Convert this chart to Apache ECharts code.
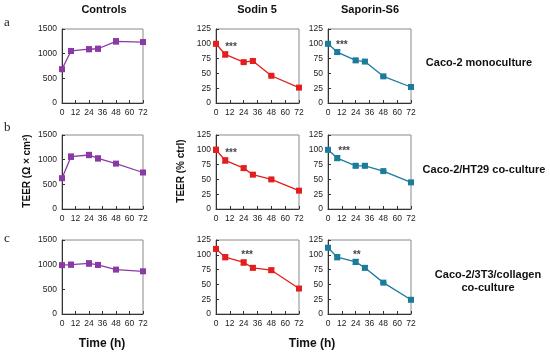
<!DOCTYPE html>
<html><head><meta charset="utf-8">
<script src="https://cdn.jsdelivr.net/npm/echarts@6/dist/echarts.min.js"></script>
<style>html,body{margin:0;padding:0;background:#fff}#c{width:550px;height:356px}</style>
</head><body><div id="c"></div>
<script>
const times = [0, 8, 24, 32, 48, 72];
const xTicks = [0, 12, 24, 36, 48, 60, 72];
const colTitles = ['Controls', 'Sodin 5', 'Saporin-S6'];
const rowLetters = ['a', 'b', 'c'];
const rowLabels = [['Caco-2 monoculture'], ['Caco-2/HT29 co-culture'], ['Caco-2/3T3/collagen', 'co-culture']];

// Controls (TEER, Ω × cm²)
const ctrlA = [685, 1055, 1090, 1100, 1250, 1235];
const ctrlAErr = [30, 45, 45, 45, 50, 40];
const ctrlB = [625, 1060, 1095, 1025, 920, 740];
const ctrlBErr = [30, 50, 50, 45, 35, 25];
const ctrlC = [990, 1000, 1025, 995, 900, 865];
const ctrlCErr = [35, 45, 50, 45, 35, 35];
// Sodin 5 (TEER, % ctrl)
const sodA = [100, 82, 69, 71, 46, 26];
const sodAErr = [3, 4, 2, 3, 1, 1];
const sodB = [100, 82, 69, 58, 50, 31];
const sodBErr = [4, 4, 3, 2, 1, 1];
const sodC = [110, 96, 87, 78, 74, 43];
const sodCErr = [3, 4, 4, 3, 3, 1];
// Saporin-S6 (TEER, % ctrl)
const sapA = [100, 86, 72, 70, 45, 27];
const sapAErr = [3, 3, 3, 2, 1, 1];
const sapB = [100, 86, 73, 73, 64, 45];
const sapBErr = [3, 4, 3, 3, 1, 1];
const sapC = [112, 96, 88, 78, 53, 24];
const sapCErr = [3, 4, 4, 3, 1, 1];

// significance marks [x, y, text] per panel
const sigSodA = [13, 94, '***'];
const sigSapA = [12, 97, '***'];
const sigSodB = [13, 95, '***'];
const sigSapB = [14, 98, '***'];
const sigSodC = [27, 100, '***'];
const sigSapC = [25, 100, '**'];

const panels = [
  [[ctrlA, ctrlAErr, null], [sodA, sodAErr, sigSodA], [sapA, sapAErr, sigSapA]],
  [[ctrlB, ctrlBErr, null], [sodB, sodBErr, sigSodB], [sapB, sapBErr, sigSapB]],
  [[ctrlC, ctrlCErr, null], [sodC, sodCErr, sigSodC], [sapC, sapCErr, sigSapC]]
];
const colors = ['#8b3aa5', '#e41e1e', '#1b7c9c'];
const gridLeft = [62, 216, 328];
const gridW = [81, 83, 83];
const gridTop = [29, 135, 240];
const gridH = 74;

const grids = [], xAxes = [], yAxes = [], series = [];
const FONT = '"Liberation Sans", Arial, sans-serif';
for (let r = 0; r < 3; r++) {
  for (let c = 0; c < 3; c++) {
    const gi = r * 3 + c;
    grids.push({left: gridLeft[c], top: gridTop[r], width: gridW[c], height: gridH,
      show: true, borderColor: '#8a8a8a', borderWidth: 1, backgroundColor: 'transparent'});
    xAxes.push({type: 'value', gridIndex: gi, min: 0, max: 72, interval: 12,
      axisLine: {lineStyle: {color: '#333', width: 1}},
      axisTick: {inside: true, length: 3, lineStyle: {color: '#333'}},
      axisLabel: {fontSize: 8.5, color: '#222', margin: 5, fontFamily: FONT, formatter: v => String(v)},
      splitLine: {show: false}});
    const isCtrl = c === 0;
    yAxes.push({type: 'value', gridIndex: gi, min: 0, max: isCtrl ? 1500 : 125, interval: isCtrl ? 500 : 25,
      axisLine: {show: true, lineStyle: {color: '#333', width: 1}},
      axisTick: {show: true, inside: true, length: 3, lineStyle: {color: '#333'}},
      axisLabel: {fontSize: 8.5, color: '#222', margin: 5, fontFamily: FONT, formatter: v => String(v)},
      splitLine: {show: false}});
    const [vals, errs, sig] = panels[r][c];
    const col = colors[c];
    series.push({type: 'line', xAxisIndex: gi, yAxisIndex: gi,
      data: times.map((t, k) => [t, vals[k]]),
      symbol: 'rect', symbolSize: 6, showSymbol: true,
      lineStyle: {color: col, width: 1.3}, itemStyle: {color: col},
      animation: false, z: 3});
    series.push({type: 'custom', xAxisIndex: gi, yAxisIndex: gi,
      data: times.map((t, k) => [t, vals[k] - errs[k], vals[k] + errs[k]]),
      renderItem: function (params, api) {
        const lo = api.coord([api.value(0), api.value(1)]);
        const hi = api.coord([api.value(0), api.value(2)]);
        const w = 3;
        const st = {stroke: col, lineWidth: 1.4};
        return {type: 'group', children: [
          {type: 'line', shape: {x1: lo[0], y1: lo[1], x2: hi[0], y2: hi[1]}, style: st},
          {type: 'line', shape: {x1: lo[0] - w, y1: lo[1], x2: lo[0] + w, y2: lo[1]}, style: st},
          {type: 'line', shape: {x1: hi[0] - w, y1: hi[1], x2: hi[0] + w, y2: hi[1]}, style: st}
        ]};
      },
      animation: false, z: 4});
    if (sig) {
      series.push({type: 'scatter', xAxisIndex: gi, yAxisIndex: gi,
        data: [[sig[0], sig[1]]], symbolSize: 0,
        label: {show: true, position: 'inside', formatter: sig[2], color: '#111',
          fontSize: 10, fontWeight: 'bold', fontFamily: FONT},
        animation: false, silent: true});
    }
  }
}

const graphics = [];
const colCenters = [104, 257, 370];
colTitles.forEach((t, i) => graphics.push({type: 'text', x: colCenters[i], y: 10,
  style: {text: t, font: 'bold 11px ' + FONT, fill: '#111', textAlign: 'center', textVerticalAlign: 'middle'}}));
const letterY = [23, 128, 239];
rowLetters.forEach((t, i) => graphics.push({type: 'text', x: 4, y: letterY[i],
  style: {text: t, font: '13px "Liberation Serif", "DejaVu Serif", serif', fill: '#222', textAlign: 'left', textVerticalAlign: 'middle'}}));
const labelCenters = [[479, 63], [484, 170], [488, 275]];
rowLabels.forEach((lines, i) => lines.forEach((ln, j) => graphics.push({type: 'text',
  x: labelCenters[i][0], y: labelCenters[i][1] + j * 13,
  style: {text: ln, font: 'bold 11px ' + FONT, fill: '#111', textAlign: 'center', textVerticalAlign: 'middle'}})));
graphics.push({type: 'text', x: 27, y: 171, rotation: Math.PI / 2,
  style: {text: 'TEER (Ω × cm²)', font: 'bold 10px ' + FONT, fill: '#111', textAlign: 'center', textVerticalAlign: 'middle'}});
graphics.push({type: 'text', x: 181, y: 171, rotation: Math.PI / 2,
  style: {text: 'TEER (% ctrl)', font: 'bold 10px ' + FONT, fill: '#111', textAlign: 'center', textVerticalAlign: 'middle'}});
[[102, 344], [312, 344]].forEach(p => graphics.push({type: 'text', x: p[0], y: p[1],
  style: {text: 'Time (h)', font: 'bold 12px ' + FONT, fill: '#111', textAlign: 'center', textVerticalAlign: 'middle'}}));

const chart = echarts.init(document.getElementById('c'), null, {renderer: 'canvas'});
chart.setOption({animation: false, grid: grids, xAxis: xAxes, yAxis: yAxes, series: series, graphic: graphics});
</script></body></html>
